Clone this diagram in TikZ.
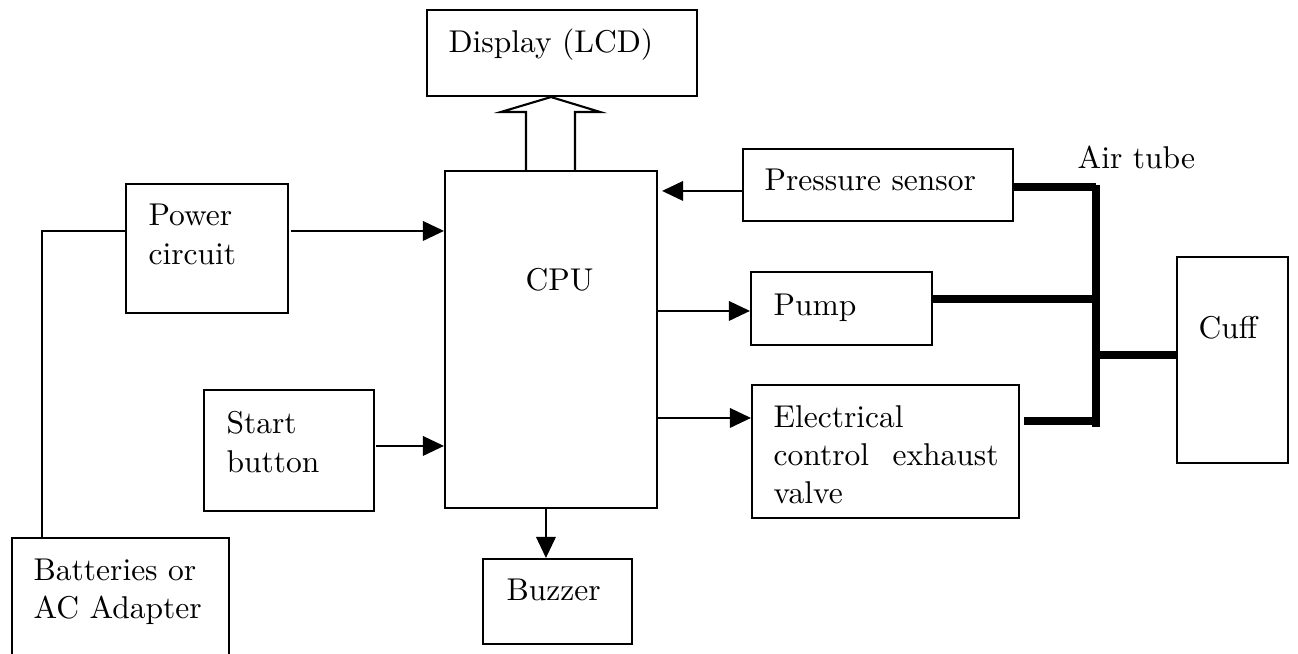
\documentclass[tikz,border=0pt]{standalone}
\usetikzlibrary{arrows.meta,calc,fit}
\begin{document}
\begin{tikzpicture}[x=0.3333pt,y=-0.3333pt,
  font=\fontsize{10.5}{12.67}\selectfont,
  blk/.style={draw, line width=0.7pt, inner sep=0pt, rectangle},
  txt/.style={inner sep=0pt, anchor=base west, align=left},
  wire/.style={line width=0.65pt},
  conn/.style={line width=0.65pt, -{Triangle[length=7pt,width=6.5pt]}},
  tube/.style={line width=2.4pt},
  hollow/.style={line width=0.7pt, line join=miter}]
\clip (0,0) rectangle (1298,653);
\fill[white] (0,0) rectangle (1298,653);
% boxes
\node[blk, fit={(427,10)(697,96)}] (disp) {};
\node[blk, fit={(445,171)(657,508)}] (cpu) {};
\node[blk, fit={(743,149)(1013,221)}] (ps) {};
\node[blk, fit={(751,272)(932,345)}] (pump) {};
\node[blk, fit={(752,385)(1019,518)}] (valve) {};
\node[blk, fit={(1177,257)(1288,463)}] (cuff) {};
\node[blk, fit={(126,184)(288,313)}] (pc) {};
\node[blk, fit={(204,390)(374,511)}] (start) {};
\node[blk, fit={(483,559)(632,644)}] (buzz) {};
\node[blk, fit={(12,538)(229,680)}] (batt) {};
% texts
\node[txt] (disptxt) at (448,52) {Display (LCD)};
\node[txt] (cputxt) at (525,290) {CPU};
\node[txt] (pstxt) at (764,190) {Pressure sensor};
\node[txt] (pumptxt) at (773,315) {Pump};
\node[txt] (valvetxt1) at (773,427) {Electrical};
\node[txt] (valvetxt2) at (773,465) {\makebox[75pt][s]{control exhaust}};
\node[txt] (valvetxt3) at (773,503) {valve};
\node[txt] (cufftxt) at (1198,338) {Cuff};
\node[txt] (airtxt) at (1077,168) {Air tube};
\node[txt] (pctxt1) at (148,225) {Power};
\node[txt] (pctxt2) at (148,264) {circuit};
\node[txt] (starttxt1) at (226,433) {Start};
\node[txt] (starttxt2) at (226,472) {button};
\node[txt] (batttxt1) at (33,580) {Batteries or};
\node[txt] (batttxt2) at (33,618) {AC Adapter};
\node[txt] (buzztxt) at (506,600) {Buzzer};
% hollow arrow CPU -> display
\draw[hollow] ($(cpu.north)+(-25,0)$) -- ++(0,-58) -- ++(-25,0)
  -- (cpu.north |- disp.south) -- ($(cpu.north)+(49,-58)$) -- ++(-25,0)
  -- ($(cpu.north)+(24,0)$);
% signal connectors
\coordinate (psout) at ($(ps.north west)+(0,43)$);
\draw[conn] (psout) -- ($(psout -| cpu.east)+(4,0)$);
\coordinate (pumpin) at ($(pump.north west)+(0,40)$);
\draw[conn] (pumpin -| cpu.east) -- (pumpin);
\coordinate (valvein) at ($(valve.north west)+(0,34)$);
\draw[conn] (valvein -| cpu.east) -- (valvein);
\coordinate (pcout) at ($(pc.north east)+(2,48)$);
\draw[conn] (pcout) -- (pcout -| cpu.west);
\coordinate (startout) at ($(start.north east)+(1,57)$);
\draw[conn] (startout) -- (startout -| cpu.west);
\coordinate (buzzin) at ($(buzz.north west)+(64,0)$);
\draw[conn] (buzzin |- cpu.south) -- (buzzin);
\coordinate (battout) at ($(batt.north west)+(31,0)$);
\coordinate (pcin) at ($(pc.north west)+(0,48)$);
\draw[wire] (battout) |- (pcin);
% air tubes
\coordinate (tubetop) at (1096,185);
\coordinate (tubebot) at (1096,427);
\draw[tube] (tubetop) -- (tubebot);
\coordinate (psair) at ($(ps.north east)+(0,39)$);
\draw[tube] (psair) -- (psair -| tubetop);
\coordinate (pumpair) at ($(pump.north east)+(0,28)$);
\draw[tube] (pumpair) -- (pumpair -| tubetop);
\coordinate (valveair) at ($(valve.north east)+(4,37)$);
\draw[tube] (valveair) -- (valveair -| tubetop);
\coordinate (cuffair) at ($(cuff.north west)+(0,99)$);
\draw[tube] (cuffair -| tubetop) -- (cuffair);
\end{tikzpicture}
\end{document}
